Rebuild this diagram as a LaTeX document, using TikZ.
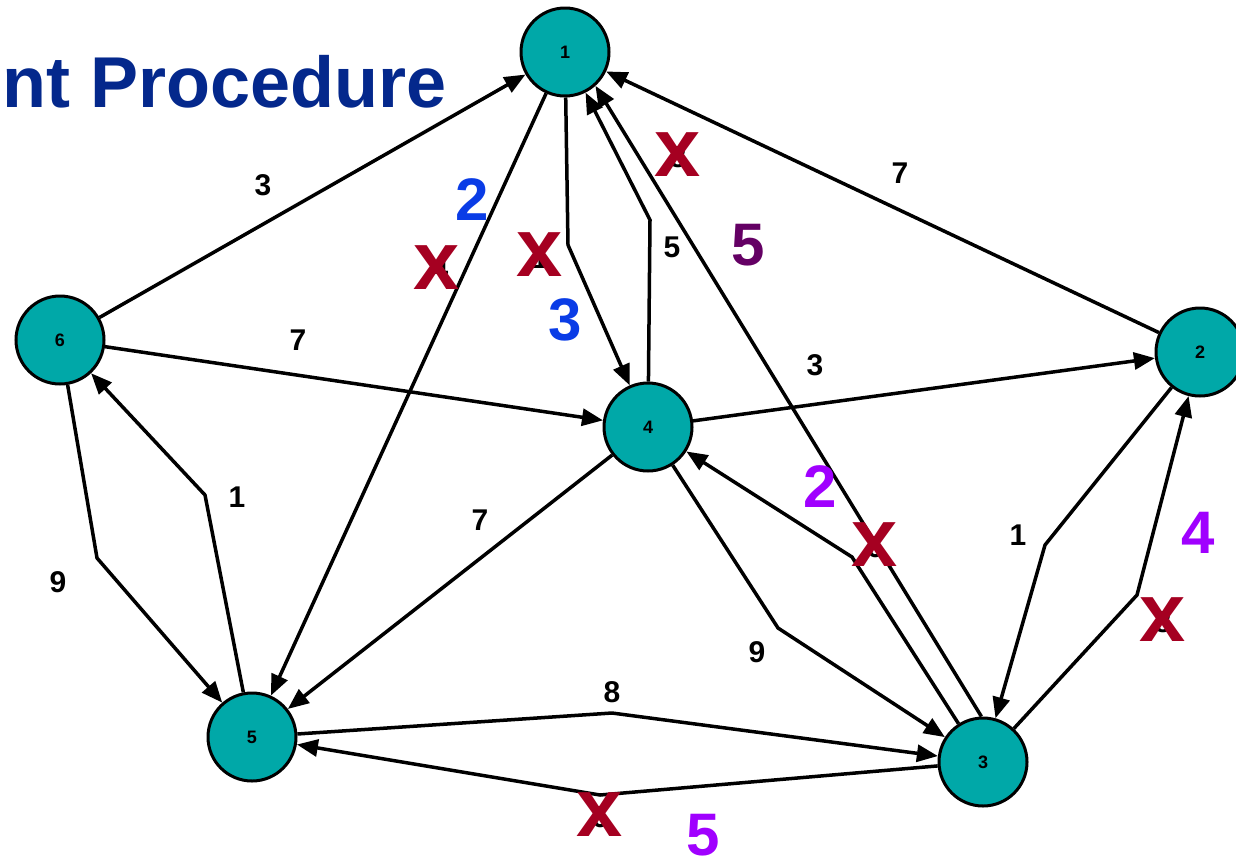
\documentclass[tikz,border=0pt]{standalone}
\usepackage{fontspec}
\setmainfont{Liberation Sans}
\usetikzlibrary{arrows.meta}
\definecolor{tealfill}{RGB}{0,168,168}
\definecolor{titleblue}{RGB}{4,40,140}
\definecolor{xred}{RGB}{165,0,33}
\definecolor{lblue}{RGB}{10,60,230}
\definecolor{lpurple}{RGB}{160,0,255}
\definecolor{dpurple}{RGB}{100,0,100}
\begin{document}
\begin{tikzpicture}[x=1pt,y=-1pt,
  vtx/.style={circle,draw=black,line width=3pt,fill=tealfill,minimum size=88pt,inner sep=0pt,font=\bfseries\fontsize{18}{20}\selectfont},
  edge/.style={line width=3.5pt,-{Triangle[length=21pt,width=17pt]},line join=miter},
  lbl/.style={font=\bfseries\fontsize{30}{34}\selectfont,inner sep=0pt},
  big/.style={font=\bfseries\fontsize{60}{66}\selectfont,inner sep=0pt},
  cross/.style={font=\bfseries\fontsize{83}{90}\selectfont,text=xred,inner sep=0pt}]
\useasboundingbox (0,0) rectangle (1236,860);
\node[anchor=base east,text=titleblue,font=\bfseries\fontsize{72}{80}\selectfont,inner sep=0pt] (title) at (447,107) {nt Procedure};

\node[vtx] (n1) at (565,52) {1};
\node[vtx] (n6) at (60,340) {6};
\node[vtx] (n2) at (1200,352) {2};
\node[vtx] (n4) at (648,427) {4};
\node[vtx] (n5) at (252,737) {5};
\node[vtx] (n3) at (983,762) {3};

\coordinate (c14) at (568,245);
\coordinate (c41) at (650,220);
\coordinate (c65) at (97,558);
\coordinate (c56) at (205,495);
\coordinate (c43) at (778,628);
\coordinate (c34) at (852,557);
\coordinate (c53) at (612,713);
\coordinate (c35) at (600,795);
\coordinate (c23) at (1045,545);
\coordinate (c32) at (1137,595);

\draw[edge] (n6) -- (n1);
\draw[edge] (n1) -- (n5);
\draw[edge] (n1) -- (c14) -- (n4);
\draw[edge] (n4) -- (c41) -- (n1);
\draw[edge] (n3.92) -- (n1.-48);
\draw[edge] (n2) -- (n1);
\draw[edge] (n6) -- (n4);
\draw[edge] (n4) -- (n2);
\draw[edge] (n6) -- (c65) -- (n5);
\draw[edge] (n5) -- (c56) -- (n6);
\draw[edge] (n4) -- (n5);
\draw[edge] (n4) -- (c43) -- (n3);
\draw[edge] (n3) -- (c34) -- (n4);
\draw[edge] (n5) -- (c53) -- (n3);
\draw[edge] (n3) -- (c35) -- (n5);
\draw[edge] (n2) -- (c23) -- (n3);
\draw[edge] (n3) -- (c32) -- (n2);

% black weights
\node[lbl] (w61) at (263,185) {3};
\node[lbl] (w41) at (672,247) {5};
\node[lbl] (w21) at (900,173) {7};
\node[lbl] (w64) at (298,340) {7};
\node[lbl] (w42) at (815,365) {3};
\node[lbl] (w56) at (237,497) {1};
\node[lbl] (w65) at (58,582) {9};
\node[lbl] (w45) at (480,520) {7};
\node[lbl] (w23) at (1018,535) {1};
\node[lbl] (w43) at (757,652) {9};
\node[lbl] (w53) at (612,692) {8};
% hidden weights under crosses
\node[lbl] (h15) at (440,268) {4};
\node[lbl] (h14) at (540,258) {1};
\node[lbl] (h31) at (678,157) {8};
\node[lbl] (h34) at (875,547) {6};
\node[lbl] (h35) at (600,817) {6};
\node[lbl] (h32) at (1163,622) {8};
% crosses
\node[cross] (x15) at (437,268) {x};
\node[cross] (x14) at (540,255) {x};
\node[cross] (x31) at (678,155) {x};
\node[cross] (x34) at (875,545) {x};
\node[cross] (x35) at (600,815) {x};
\node[cross] (x32) at (1163,620) {x};
% coloured labels
\node[big,text=lblue] (b2) at (472,200) {2};
\node[big,text=lblue] (b3) at (565,320) {3};
\node[big,text=dpurple] (p5a) at (748,245) {5};
\node[big,text=lpurple] (p2) at (820,487) {2};
\node[big,text=lpurple] (p4) at (1198,533) {4};
\node[big,text=lpurple] (p5b) at (703,835) {5};
\end{tikzpicture}
\end{document}
